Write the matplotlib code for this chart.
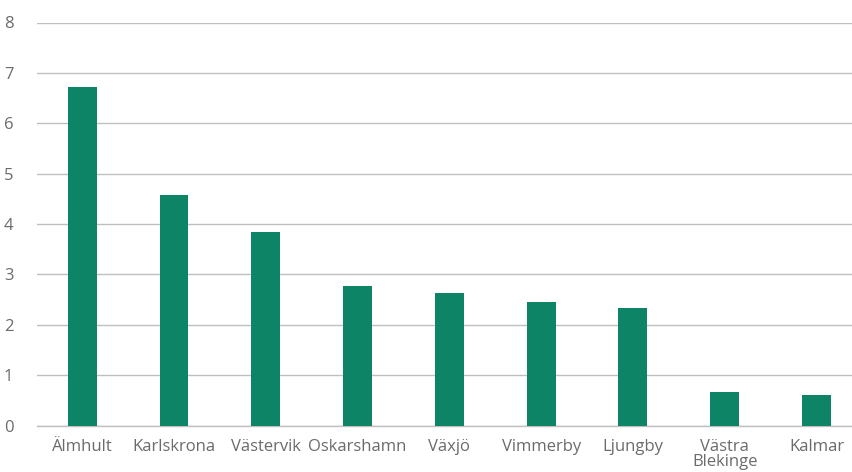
import matplotlib.pyplot as plt

# Data
towns = ['Älmhult', 'Karlskrona', 'Västervik', 'Oskarshamn', 'Växjö',
         'Vimmerby', 'Ljungby', 'Västra\nBlekinge', 'Kalmar']
values = [6.72, 4.57, 3.84, 2.77, 2.63, 2.46, 2.34, 0.67, 0.61]
yticks = [0, 1, 2, 3, 4, 5, 6, 7, 8]

plt.rcParams['font.family'] = ['Open Sans', 'DejaVu Sans']

fig = plt.figure(figsize=(8.53, 4.72), dpi=100)
ax = fig.add_axes([37 / 853, 1 - 425.5 / 472, 1 - 37 / 853, (425.5 - 22.5) / 472])

x = range(len(towns))
ax.bar(x, values, width=0.315, color='#0e8466', zorder=3)

ax.set_xlim(-0.492, 8.397)
ax.set_ylim(0, 8)
ax.set_yticks(yticks)
ax.set_xticks(list(x))
ax.set_xticklabels(towns, linespacing=0.9)

ax.grid(axis='y', color='#bfbfbf', linewidth=1, zorder=0)
for s in ['top', 'right', 'left']:
    ax.spines[s].set_visible(False)
ax.spines['bottom'].set_color('#bfbfbf')
ax.spines['bottom'].set_linewidth(1)

ax.tick_params(axis='both', length=0, labelsize=12, colors='#6b6b6b')
ax.tick_params(axis='y', pad=17)
ax.tick_params(axis='x', pad=10)
for lab in ax.get_xticklabels():
    lab.set_fontstretch('expanded')

fig.savefig('out.png', dpi=100)
